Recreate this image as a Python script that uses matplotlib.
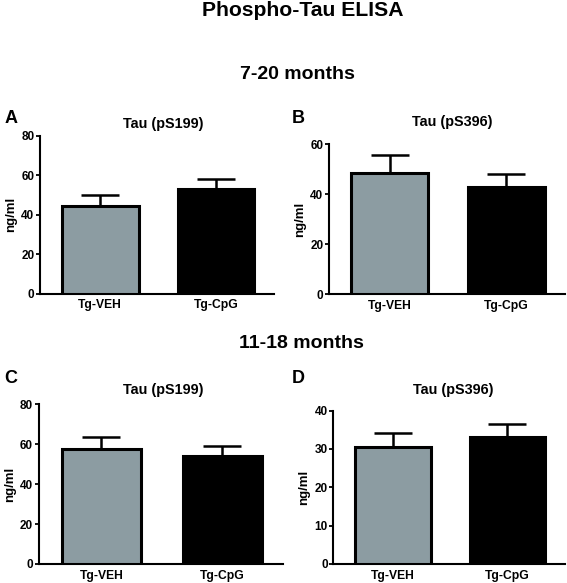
import matplotlib
matplotlib.use("Agg")
import matplotlib.pyplot as plt

plt.rcParams["font.family"] = ["Liberation Sans", "DejaVu Sans"]
plt.rcParams["font.weight"] = "bold"

# ── data ──────────────────────────────────────────────────────────────────────
groups = ["Tg-VEH", "Tg-CpG"]
bar_colors = ["#8c9ca2", "#000000"]

a_mean = [44.5, 53.0]
a_err = [5.5, 5.2]
b_mean = [48.4, 43.0]
b_err = [7.3, 5.0]
c_mean = [57.8, 54.2]
c_err = [6.0, 5.0]
d_mean = [30.4, 33.0]
d_err = [3.8, 3.6]

panels = [
    ("A", "Tau (pS199)", a_mean, a_err, 80, [0, 20, 40, 60, 80]),
    ("B", "Tau (pS396)", b_mean, b_err, 60, [0, 20, 40, 60]),
    ("C", "Tau (pS199)", c_mean, c_err, 80, [0, 20, 40, 60, 80]),
    ("D", "Tau (pS396)", d_mean, d_err, 40, [0, 10, 20, 30, 40]),
]

# axes rectangles in figure fraction (left, bottom, width, height)
rects = [
    (0.0705, 0.496, 0.413, 0.271),
    (0.580, 0.495, 0.416, 0.258),
    (0.068, 0.0326, 0.431, 0.274),
    (0.588, 0.0326, 0.408, 0.263),
]
letter_pos = [(0.008, 0.796), (0.515, 0.796), (0.008, 0.350), (0.515, 0.350)]
title_pos = [(0.288, 0.787), (0.797, 0.790), (0.288, 0.331), (0.799, 0.331)]

fig = plt.figure(figsize=(5.67, 5.83), dpi=100, facecolor="white")

fig.text(0.534, 0.982, "Phospho-Tau ELISA", ha="center", va="center",
         fontsize=15.2, fontweight="bold")
fig.text(0.524, 0.872, "7-20 months", ha="center", va="center",
         fontsize=14, fontweight="bold")
fig.text(0.531, 0.411, "11-18 months", ha="center", va="center",
         fontsize=14, fontweight="bold")

for (letter, title, mean, err, ymax, ticks), rect, lp, tp in zip(
        panels, rects, letter_pos, title_pos):
    ax = fig.add_axes(rect)
    x = [0, 1]
    ax.bar(x, mean, width=0.66, color=bar_colors, edgecolor="black",
           linewidth=2.2, zorder=3)
    ax.errorbar(x, mean, yerr=[[0, 0], err], fmt="none", ecolor="black",
                elinewidth=1.8, capsize=14, capthick=1.8, zorder=2)
    ax.set_xlim(-0.52, 1.5)
    ax.set_ylim(0, ymax)
    ax.set_yticks(ticks)
    ax.set_xticks(x)
    ax.set_xticklabels(groups, fontsize=8.7, fontweight="bold")
    ax.tick_params(axis="x", length=0, pad=4)
    ax.tick_params(axis="y", length=3, width=1.3, labelsize=8.5, pad=1)
    for lab in ax.get_yticklabels():
        lab.set_fontweight("bold")
    ax.set_ylabel("ng/ml", fontsize=9.5, fontweight="bold", labelpad=3)
    ax.spines["top"].set_visible(False)
    ax.spines["right"].set_visible(False)
    ax.spines["left"].set_linewidth(1.5)
    ax.spines["bottom"].set_linewidth(1.5)
    fig.text(tp[0], tp[1], title, fontsize=10.4, fontweight="bold",
             ha="center", va="center")
    fig.text(lp[0], lp[1], letter, fontsize=13, fontweight="bold",
             ha="left", va="center")

fig.savefig("out.png", dpi=100, facecolor="white")
